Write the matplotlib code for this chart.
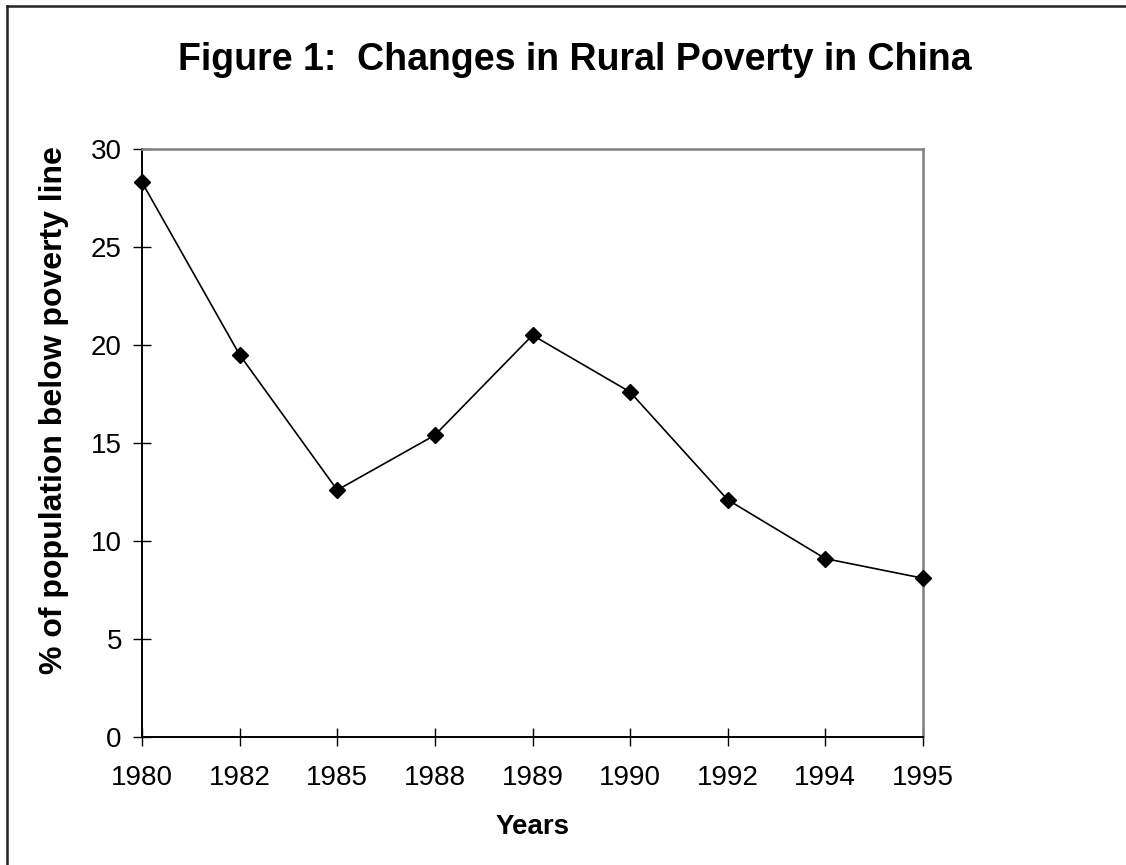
import matplotlib
matplotlib.use("Agg")
import matplotlib.pyplot as plt
from matplotlib.lines import Line2D

years = ["1980", "1982", "1985", "1988", "1989", "1990", "1992", "1994", "1995"]
poverty_pct = [28.3, 19.5, 12.6, 15.4, 20.5, 17.6, 12.1, 9.1, 8.1]
y_ticks = [0, 5, 10, 15, 20, 25, 30]

plt.rcParams['font.family'] = ['Liberation Sans', 'DejaVu Sans']

fig = plt.figure(figsize=(11.26, 8.65), dpi=100)
ax = fig.add_axes([142/1126, 1-737/865, (923-142)/1126, (737-149)/865])

x = list(range(len(years)))
ax.plot(x, poverty_pct, color='black', linewidth=1.2, marker='D', markersize=8,
        markerfacecolor='black', markeredgecolor='black', clip_on=False, zorder=5)

ax.set_xlim(0, len(years) - 1)
ax.set_ylim(0, 30)
ax.set_xticks(x)
ax.set_xticklabels(years)
ax.set_yticks(y_ticks)
ax.set_yticklabels([str(v) for v in y_ticks])

ax.tick_params(axis='both', direction='inout', length=13, width=1, colors='black', labelsize=20)
ax.tick_params(axis='x', pad=14)
ax.tick_params(axis='y', pad=8)

for s in ['left', 'bottom']:
    ax.spines[s].set_color('black')
    ax.spines[s].set_linewidth(1.4)
for s in ['top', 'right']:
    ax.spines[s].set_color('#808080')
    ax.spines[s].set_linewidth(1.8)

ax.set_xlabel('Years', fontsize=20, fontweight='bold', va='center')
ax.xaxis.set_label_coords(0.5, (737 - 827) / 588)
ax.set_ylabel('% of population below poverty line', fontsize=23, fontweight='bold', va='center')
ax.yaxis.set_label_coords((54 - 142) / 781, (737 - 410) / 588)

fig.text(575/1126, 1-70/865, 'Figure 1:  Changes in Rural Poverty in China',
         ha='center', va='baseline', fontsize=27, fontweight='bold')

# figure border (top and left visible)
fig.add_artist(Line2D([7/1126, 1.0], [1-5.5/865, 1-5.5/865], transform=fig.transFigure,
                      color='#222222', linewidth=1.8))
fig.add_artist(Line2D([7/1126, 7/1126], [0, 1-5.5/865], transform=fig.transFigure,
                      color='#222222', linewidth=1.8))

fig.savefig('out.png', dpi=100, facecolor='white')
